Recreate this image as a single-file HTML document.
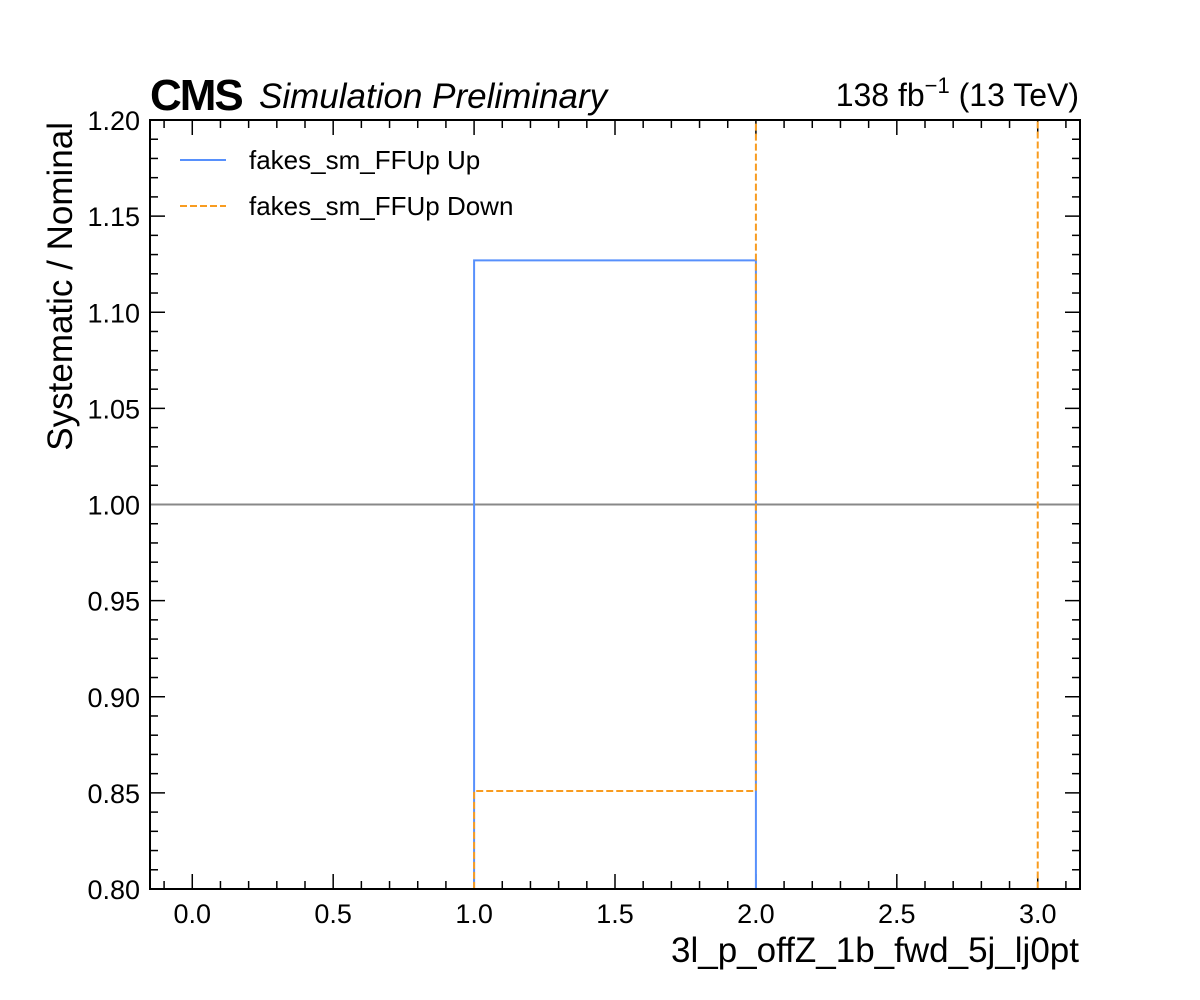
<!DOCTYPE html>
<html><head><meta charset="utf-8"><style>
html,body{margin:0;padding:0;background:#fff;font-family:"Liberation Sans",sans-serif;overflow:hidden;width:1200px;height:1000px;}
svg{display:block;}
svg text{font-family:"Liberation Sans",sans-serif;}
</style></head><body>
<svg id="c" width="1200" height="1000" xmlns="http://www.w3.org/2000/svg">
<rect width="1200" height="1000" fill="#fff"/>
<g id="ticks"></g>
<g id="series"></g>
<rect x="150" y="120" width="930" height="769" fill="none" stroke="#000" stroke-width="2"/>
<text x="150" y="110" font-size="44" font-weight="bold" letter-spacing="-2">CMS</text>
<text x="259" y="108" font-size="35" font-style="italic">Simulation Preliminary</text>
<text x="1079" y="106" font-size="32" text-anchor="end">138 fb<tspan dy="-13" font-size="22">−1</tspan><tspan dy="13"> (13 TeV)</tspan></text>
<text x="1079" y="962" font-size="35" text-anchor="end">3l_p_offZ_1b_fwd_5j_lj0pt</text>
<text transform="translate(72,122) rotate(-90)" font-size="35" text-anchor="end">Systematic / Nominal</text>
<g>
<line x1="180" y1="160" x2="226" y2="160" stroke="#5790fc" stroke-width="2"/>
<text x="249" y="169" font-size="26">fakes_sm_FFUp Up</text>
<line x1="180" y1="206" x2="226" y2="206" stroke="#f89c20" stroke-width="2" stroke-dasharray="7,3"/>
<text x="249" y="215" font-size="26">fakes_sm_FFUp Down</text>
</g>
</svg>
<script>
const binEdges=[0,1,2,3];
const upValues=[0,1.127,0];
const downValues=[0,0.851,2.0];
const xTickLabels=["0.0","0.5","1.0","1.5","2.0","2.5","3.0"];
const yTickLabels=["0.80","0.85","0.90","0.95","1.00","1.05","1.10","1.15","1.20"];
const L=150,R=1080,T=120,B=889,X0=-0.15,X1=3.15,Y0=0.8,Y1=1.2;
const sx=v=>L+(v-X0)/(X1-X0)*(R-L);
const sy=v=>B-(v-Y0)/(Y1-Y0)*(B-T);
const NS="http://www.w3.org/2000/svg";
const tg=document.getElementById('ticks'),sg=document.getElementById('series');
function ln(g,x1,y1,x2,y2,st,w,name){const l=document.createElementNS(NS,'line');l.setAttribute('x1',x1);l.setAttribute('y1',y1);l.setAttribute('x2',x2);l.setAttribute('y2',y2);l.setAttribute('stroke',st);l.setAttribute('stroke-width',w);


g.appendChild(l);return l;}
function tx(x,y,s,anchor,name){const t=document.createElementNS(NS,'text');t.setAttribute('x',x);t.setAttribute('y',y);t.setAttribute('font-size','27');t.setAttribute('text-anchor',anchor);t.textContent=s;


tg.appendChild(t);}
for(let i=-1;i<=31;i++){const v=i/10,x=sx(v);if(x<L||x>R)continue;const maj=i%5===0;const len=maj?15:8;
ln(tg,x,B,x,B-len,'#000',1.5,'x-tick');ln(tg,x,T,x,T+len,'#000',1.5,'x-tick-top');}
xTickLabels.forEach(s=>tx(sx(parseFloat(s)),923,s,'middle','x-tick-label'));
for(let i=0;i<=40;i++){const v=0.8+i*0.01,y=sy(v);const maj=i%5===0;const len=maj?15:8;
ln(tg,L,y,L+len,y,'#000',1.5,'y-tick');ln(tg,R,y,R-len,y,'#000',1.5,'y-tick-right');}
yTickLabels.forEach(s=>tx(140,sy(parseFloat(s))+10,s,'end','y-tick-label'));
ln(sg,L,sy(1),R,sy(1),'#888',2,'nominal-line');
const clip=document.createElementNS(NS,'clipPath');clip.setAttribute('id','cp');const cr=document.createElementNS(NS,'rect');cr.setAttribute('x',L);cr.setAttribute('y',T);cr.setAttribute('width',R-L);cr.setAttribute('height',B-T);clip.appendChild(cr);sg.appendChild(clip);
function step(vals,color,dash,name){let d='M'+sx(binEdges[0])+','+sy(0);
for(let i=0;i<vals.length;i++){d+=' L'+sx(binEdges[i])+','+sy(vals[i])+' L'+sx(binEdges[i+1])+','+sy(vals[i]);}
d+=' L'+sx(binEdges[binEdges.length-1])+','+sy(0);
const p=document.createElementNS(NS,'path');p.setAttribute('d',d);p.setAttribute('fill','none');p.setAttribute('stroke',color);p.setAttribute('stroke-width','2');if(dash)p.setAttribute('stroke-dasharray',dash);p.setAttribute('clip-path','url(#cp)');


sg.appendChild(p);}
step(upValues,'#5790fc',null,'up-series');
step(downValues,'#f89c20','7,3','down-series');
</script>
</body></html>
